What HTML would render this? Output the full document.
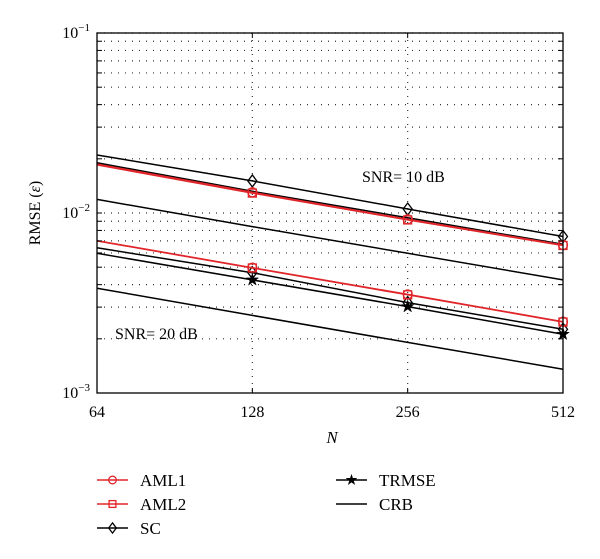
<!DOCTYPE html>
<html><head><meta charset="utf-8"><style>
body{margin:0;background:#fff;}
svg{display:block;font-family:"Liberation Serif",serif;}
</style></head><body>
<svg id="chart" width="600" height="559" viewBox="0 0 600 559" xmlns="http://www.w3.org/2000/svg">
<g id="grid"></g>
<g id="series"></g>
<g id="axes"></g>
<text x="362" y="182" font-size="16">SNR= 10 dB</text>
<text x="115" y="339" font-size="16">SNR= 20 dB</text>
<text x="332" y="443" font-size="17" font-style="italic" text-anchor="middle">N</text>
<text transform="translate(40,213) rotate(-90)" font-size="16" text-anchor="middle">RMSE (<tspan font-style="italic">ε</tspan>)</text>
<g id="legend"></g>
</svg>
<script>
const NS='http://www.w3.org/2000/svg';
const categories=[64,128,256,512];
const aml1_10=[0.0187,0.01303,0.00923,0.00664];
const aml2_10=[0.0185,0.0129,0.00915,0.00660];
const sc_10=[0.0210,0.01507,0.01052,0.0074];
const trmse_10=[0.0190,0.0132,0.0094,0.0067];
const crb_10=[0.0119,0.0084,0.00597,0.00425];
const aml1_20=[0.00702,0.00497,0.00353,0.00249];
const aml2_20=[0.00700,0.00495,0.00351,0.00248];
const sc_20=[0.00641,0.00466,0.00318,0.00226];
const trmse_20=[0.00597,0.00425,0.00302,0.00212];
const crb_20=[0.00382,0.0027,0.00191,0.001356];
const xTicks=['64','128','256','512'];
const yDecades=[-3,-2,-1];

const L=97,R=563,T=33,B=393;
function xs(n){return L+(Math.log2(n)-6)/3*(R-L);}
function ys(v){return T+(-1-Math.log10(v))*(B-T)/2;}
function mk(tag,attrs,parent){const e=document.createElementNS(NS,tag);for(const k in attrs)e.setAttribute(k,attrs[k]);parent.appendChild(e);return e;}
const grid=document.getElementById('grid'),series=document.getElementById('series'),axes=document.getElementById('axes'),legend=document.getElementById('legend');

for(let d=-3;d<-1;d++){for(let m=2;m<=10;m++){const v=m*Math.pow(10,d);const y=ys(v);
 const g=mk('line',{x1:L,x2:R,y1:y,y2:y,stroke:'#333','stroke-width':1.2,'stroke-dasharray':'1 6'},grid);
 
 
 mk('line',{x1:L,x2:L+5,y1:y,y2:y,stroke:'#000','stroke-width':1},axes);
 mk('line',{x1:R,x2:R-5,y1:y,y2:y,stroke:'#000','stroke-width':1},axes);}}
categories.slice(1,3).forEach(c=>{const x=xs(c);
 const g=mk('line',{x1:x,x2:x,y1:T,y2:B,stroke:'#333','stroke-width':1.2,'stroke-dasharray':'1 6'},grid);
 
 });
const box=mk('rect',{x:L,y:T,width:R-L,height:B-T,fill:'none',stroke:'#000','stroke-width':1.3},axes);


categories.forEach((c,i)=>{const x=xs(c);
 mk('line',{x1:x,x2:x,y1:B,y2:B-5,stroke:'#000'},axes);mk('line',{x1:x,x2:x,y1:T,y2:T+5,stroke:'#000'},axes);
 const t=mk('text',{x:x,y:417,'font-size':16,'text-anchor':'middle'},axes);t.textContent=xTicks[i];
 
 });
yDecades.forEach(d=>{const y=ys(Math.pow(10,d));
 const t=mk('text',{x:L-7,y:y+5,'font-size':16,'text-anchor':'end'},axes);
 t.innerHTML='10<tspan dy="-7" font-size="11">−'+(-d)+'</tspan>';
 
 });

function marker(type,x,y,color,parent,s){s=s||1;
 if(type==='o')return mk('circle',{cx:x,cy:y,r:4.5*s,fill:'none',stroke:color,'stroke-width':1.3},parent);
 if(type==='s')return mk('rect',{x:x-4*s,y:y-4*s,width:8*s,height:8*s,fill:'none',stroke:color,'stroke-width':1.3},parent);
 if(type==='d')return mk('polygon',{points:`${x},${y-6*s} ${x+4.5*s},${y} ${x},${y+6*s} ${x-4.5*s},${y}`,fill:'none',stroke:color,'stroke-width':1.3},parent);
 if(type==='*'){let p=[];for(let i=0;i<10;i++){const r=(i%2?2.5:6.5)*s,a=-Math.PI/2+i*Math.PI/5;p.push((x+r*Math.cos(a)).toFixed(1)+','+(y+r*Math.sin(a)).toFixed(1));}
  return mk('polygon',{points:p.join(' '),fill:color,stroke:color,'stroke-width':0.5},parent);}
}
function draw(vals,color,type,name){
 const pts=vals.map((v,i)=>xs(categories[i]).toFixed(1)+','+ys(v).toFixed(1)).join(' ');
 const pl=mk('polyline',{points:pts,fill:'none',stroke:color,'stroke-width':1.5},series);
 
 
 if(type)vals.forEach((v,i)=>{if(i===0)return;const m=marker(type,xs(categories[i]),ys(v),color,series);
  
  });
}
const RED='#e0262b';
draw(crb_10,'#000',null,'crb-10db');draw(crb_20,'#000',null,'crb-20db');
draw(sc_10,'#000','d','sc-10db');draw(sc_20,'#000','d','sc-20db');
draw(trmse_10,'#000',null,'trmse-10db');draw(trmse_20,'#000','*','trmse-20db');
draw(aml2_10,RED,'s','aml2-10db');draw(aml2_20,RED,'s','aml2-20db');
draw(aml1_10,RED,'o','aml1-10db');draw(aml1_20,RED,'o','aml1-20db');

const leg=[['AML1',RED,'o',97,480],['AML2',RED,'s',97,504],['SC','#000','d',97,528],['TRMSE','#000','*',336,480],['CRB','#000',null,336,504]];
leg.forEach(([lab,c,t,x,y])=>{const g=mk('g',{},legend);
 
 
 mk('line',{x1:x,x2:x+31,y1:y,y2:y,stroke:c,'stroke-width':1.5},g);
 if(t)marker(t,x+15.5,y,c,g,0.85);
 const tx=mk('text',{x:x+43,y:y+6,'font-size':17},g);tx.textContent=lab;});
</script>
</body></html>
